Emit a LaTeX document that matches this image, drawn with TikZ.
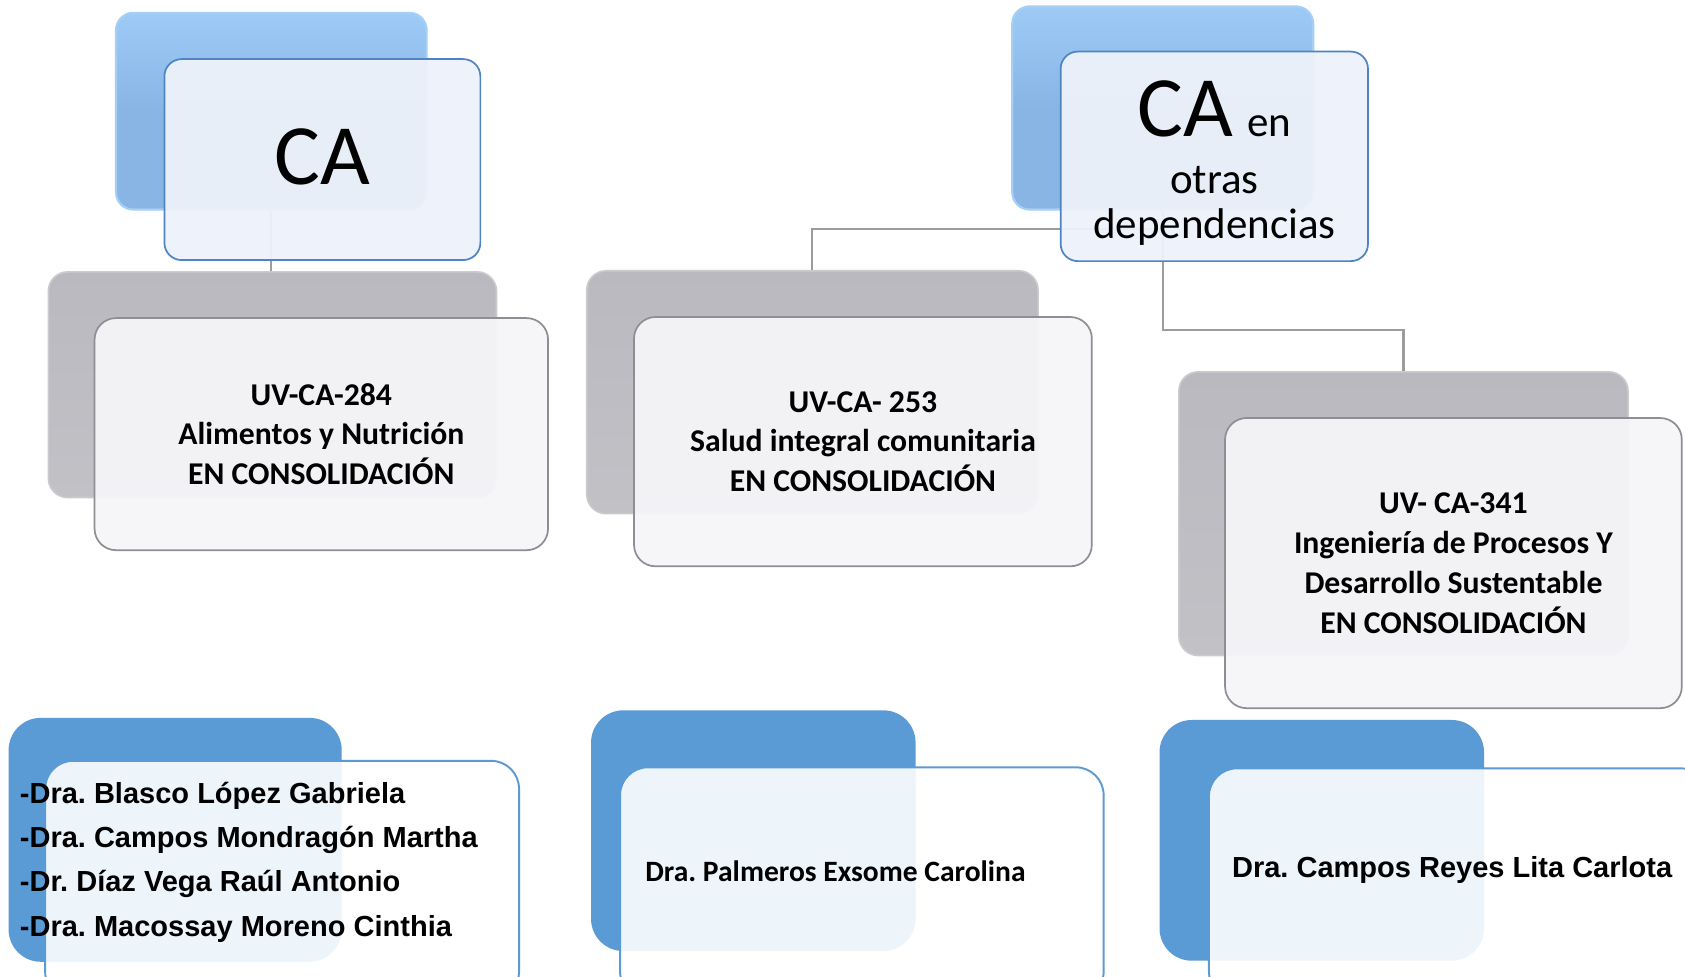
\documentclass[tikz,border=0pt]{standalone}
\usepackage{fontspec}
\setmainfont{Carlito}
\newfontfamily\arialf{Liberation Sans}
\frenchspacing
\definecolor{blueT}{HTML}{9ECAF6}
\definecolor{blueB}{HTML}{89B5E5}
\definecolor{blueE}{HTML}{A6CFF6}
\definecolor{grayT}{HTML}{B9B9BF}
\definecolor{grayB}{HTML}{C1C1C6}
\definecolor{grayE}{HTML}{CBCBCF}
\definecolor{frblueT}{HTML}{EEF2FA}
\definecolor{frblueD}{HTML}{4F84C4}
\definecolor{frgray}{HTML}{F6F6F9}
\definecolor{frgrayD}{HTML}{8E8E95}
\definecolor{botblue}{HTML}{5B9BD5}
\definecolor{connc}{HTML}{9C9C9C}
\begin{document}
\begin{tikzpicture}[x=1pt,y=-1pt,
  bluebk/.style={rounded corners=16pt, top color=blueT, bottom color=blueB, middle color=blueB, draw=blueE, line width=2pt, inner sep=0pt},
  graybk/.style={rounded corners=18pt, top color=grayT, bottom color=grayB, draw=grayE, line width=1.5pt, inner sep=0pt},
  bluefr/.style={rounded corners=16pt, fill=frblueT, fill opacity=0.95, draw=frblueD, draw opacity=1, line width=1.6pt, inner sep=0pt},
  grayfr/.style={rounded corners=20pt, fill=frgray, fill opacity=0.94, draw=frgrayD, draw opacity=1, line width=1.6pt, inner sep=0pt},
  botbk/.style={rounded corners=30pt, fill=botblue, inner sep=0pt},
  botfr/.style={rounded corners=26pt, fill=white, fill opacity=0.9, draw=botblue, draw opacity=1, line width=1.8pt, inner sep=0pt},
  conn/.style={draw=connc, line width=2pt},
  midtext/.style={font=\fontsize{29.5}{37}\selectfont\bfseries, align=center, text opacity=1},
  bigtext/.style={font=\fontsize{80}{80}\selectfont, anchor=base},
  smalltext/.style={font=\fontsize{40}{43}\selectfont, anchor=base},
  namesA/.style={font=\arialf\bfseries\fontsize{27}{41}\selectfont, align=left, anchor=base west},
  namesC/.style={font=\bfseries\fontsize{27.5}{30}\selectfont, anchor=base west}
]
\useasboundingbox (0,0) rectangle (1568,909);
\clip (0,0) rectangle (1568,909);
\fill[white] (0,0) rectangle (1568,909);
% back boxes
\node[bluebk, minimum width=289pt, minimum height=183pt] (B1) at (252.5,103.5) {};
\node[graybk, minimum width=417pt, minimum height=210pt] (G1) at (253.5,358) {};
\node[bluebk, minimum width=280pt, minimum height=189pt] (B2) at (1082,100.5) {};
\node[graybk, minimum width=420pt, minimum height=226pt] (G2) at (756,365) {};
\node[graybk, minimum width=418pt, minimum height=264pt] (G3) at (1306,478) {};
% connectors
\draw[conn] (B1.south) -- (B1.south |- G1.north);
\draw[conn] (B2.south) -- ++(0,17) -| (G2.north);
\draw[conn] (B2.south) -- ++(0,111) -| (G3.north);
% front boxes
\node[bluefr, minimum width=294pt, minimum height=187pt] (F1) at (300,148.5) {};
\node[grayfr, minimum width=422pt, minimum height=216pt] (M1) at (299,404) {};
\node[bluefr, minimum width=286pt, minimum height=195pt] (F2) at (1130,145.5) {};
\node[grayfr, minimum width=426pt, minimum height=232pt] (M2) at (803,411) {};
\node[grayfr, minimum width=425pt, minimum height=270pt] (M3) at (1352.5,524) {};
% bottom boxes
\node[botbk, minimum width=310pt, minimum height=227pt] (L1) at (163,781.5) {};
\node[botfr, minimum width=441pt, minimum height=222pt] (N1) at (262.5,819) {};
\node[botbk, minimum width=302pt, minimum height=224pt] (L2) at (701,773) {};
\node[botfr, minimum width=450pt, minimum height=216pt] (N2) at (802,822) {};
\node[botbk, minimum width=302pt, minimum height=224pt] (L3) at (1230,782) {};
\node[botfr, minimum width=465pt, minimum height=215pt] (N3) at (1357.5,822.5) {};
% texts
\node[bigtext] (tCA1) at (300,172) {CA};
\node[bigtext] (tCA2) at (1130,127) {CA\,{\fontsize{40}{40}\selectfont en}};
\node[smalltext] (tot) at (1130,180) {otras};
\node[smalltext] (tdep) at (1130,222) {dependencias};
\node[midtext] (t1) at (M1.center) {UV-CA-284\\Alimentos y Nutrición\\EN CONSOLIDACIÓN};
\node[midtext] (t2) at (M2.center) {UV-CA- 253\\Salud integral comunitaria\\EN CONSOLIDACIÓN};
\node[midtext] (t3) at (M3.center) {UV- CA-341\\Ingeniería de Procesos Y\\Desarrollo Sustentable\\EN CONSOLIDACIÓN};
\node[namesA] (n1) at (15,871) {-Dra. Blasco López Gabriela\\-Dra. Campos Mondragón Martha\\-Dr. Díaz Vega Raúl Antonio\\-Dra. Macossay Moreno Cinthia};
\node[namesC] (n2) at (597,820) {Dra. Palmeros Exsome Carolina};
\node[namesA] (n3) at (1143,817) {Dra. Campos Reyes Lita Carlota};
\end{tikzpicture}
\end{document}
